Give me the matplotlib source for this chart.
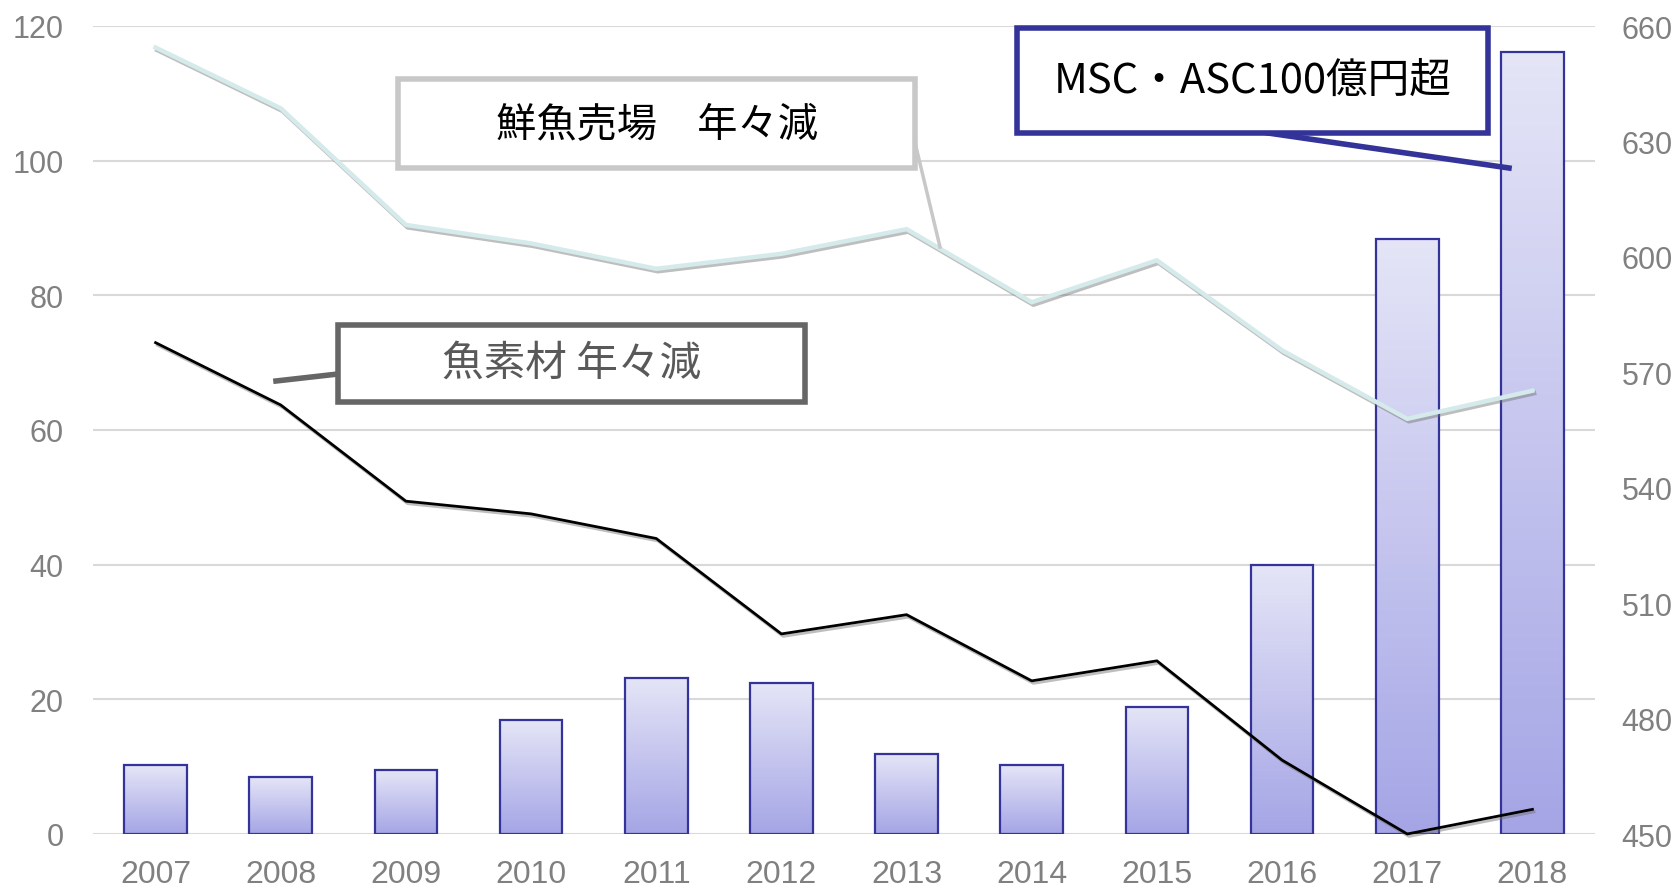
import matplotlib
matplotlib.use('Agg')
import matplotlib.pyplot as plt
import numpy as np
from matplotlib import patheffects as pe
from matplotlib.lines import Line2D
from matplotlib.patches import Rectangle

years = ['2007', '2008', '2009', '2010', '2011', '2012',
         '2013', '2014', '2015', '2016', '2017', '2018']
msc_asc = [10.2, 8.4, 9.5, 16.9, 23.2, 22.4, 11.9, 10.3, 18.9, 39.9, 88.4, 116.1]
fresh_fish_floor = [654.4, 638.6, 608.3, 603.5, 596.9, 600.8,
                    607.2, 588.2, 599.1, 575.7, 557.9, 565.2]
fish_material = [577.7, 561.5, 536.5, 533.2, 526.8, 502.0,
                 507.0, 489.8, 495.0, 469.2, 450.0, 456.4]
left_ticks = [0, 20, 40, 60, 80, 100, 120]
right_ticks = [450, 480, 510, 540, 570, 600, 630, 660]

label_fresh = '鮮魚売場\u3000年々減'
label_material = '魚素材 年々減'
label_msc = 'MSC・ASC100億円超'

W, H = 1678, 887
fig = plt.figure(figsize=(W / 100, H / 100), dpi=100)
ax = fig.add_axes([93 / W, 1 - 835 / H, (1595 - 93) / W, (835 - 27) / H])

x = np.arange(len(years))
bars = ax.bar(x, msc_asc, width=0.5, facecolor='none', edgecolor='#333399',
              linewidth=1.6, zorder=3)
top_c = np.array([0.898, 0.898, 0.969])
bot_c = np.array([0.647, 0.647, 0.902])
grad = np.linspace(0, 1, 256)[:, None, None]
img = bot_c * (1 - grad) + top_c * grad
for b in bars:
    x0, w, h = b.get_x(), b.get_width(), b.get_height()
    im = ax.imshow(img, extent=(x0, x0 + w, 0, h), origin='lower',
                   aspect='auto', zorder=2.5, interpolation='bilinear')
    im.set_clip_path(b)

ax.set_xlim(-0.5, len(years) - 0.5)
ax.set_ylim(0, 120)
ax.set_yticks(left_ticks)
ax.set_xticks(x, years)
ax.grid(axis='y', color='#d9d9d9', linewidth=1.5)
ax.set_axisbelow(True)
for s in ax.spines.values():
    s.set_visible(False)
ax.tick_params(axis='y', length=0, labelsize=22, labelcolor='#808080', pad=21)
ax.tick_params(axis='x', length=0, labelsize=23, labelcolor='#808080', pad=18)
for t in ax.get_xticklabels() + ax.get_yticklabels():
    t.set_fontfamily('Liberation Sans')

ax2 = ax.twinx()
ax2.set_ylim(450, 660)
ax2.set_yticks(right_ticks)
for s in ax2.spines.values():
    s.set_visible(False)
ax2.tick_params(axis='y', length=0, labelsize=22, labelcolor='#808080', pad=19)
for t in ax2.get_yticklabels():
    t.set_fontfamily('Liberation Sans')

shadow = [pe.SimpleLineShadow(offset=(1.2, -1.8), shadow_color='#707070', alpha=0.45),
          pe.Normal()]
ax2.plot(x, fresh_fish_floor, color='#d5eaea', linewidth=3.2, clip_on=False,
         path_effects=shadow, zorder=4)
ax2.plot(x, fish_material, color='black', linewidth=2.0, clip_on=False,
         path_effects=shadow, zorder=4)


def fx(px):
    return px / W


def fy(py):
    return 1 - py / H


def callout(x0, y0, x1, y1, text, edge, tcolor, lx, ly, lw_line, size):
    fig.add_artist(Line2D([fx(lx[0]), fx(lx[1])], [fy(ly[0]), fy(ly[1])],
                          transform=fig.transFigure, color=edge,
                          linewidth=lw_line, zorder=5))
    fig.add_artist(Rectangle((fx(x0), fy(y1)), fx(x1) - fx(x0), fy(y0) - fy(y1),
                             transform=fig.transFigure, facecolor='white',
                             edgecolor=edge, linewidth=4, zorder=6))
    fig.text(fx((x0 + x1) / 2), fy((y0 + y1) / 2), text, ha='center', va='center',
             fontsize=size, color=tcolor, zorder=7,
             family=['Noto Sans CJK JP', 'DejaVu Sans'])


callout(398, 80, 915, 169, label_fresh, '#c8c8c8', 'black',
        (912, 940), (131, 248), 2.5, 29)
callout(338, 326, 805, 403, label_material, '#666666', '#595959',
        (338, 276), (375, 382), 4, 30)
callout(1017, 29, 1488, 134, label_msc, '#333399', 'black',
        (1268, 1509), (134, 169), 4, 30)

fig.savefig('out.png', dpi=100)
